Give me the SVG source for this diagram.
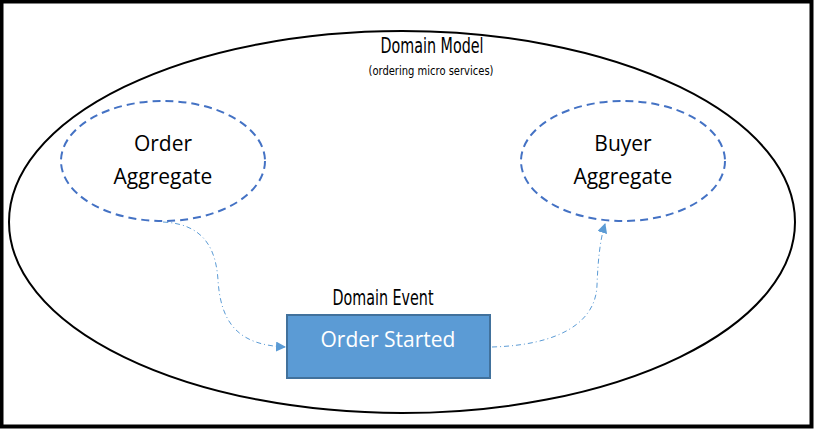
<svg xmlns="http://www.w3.org/2000/svg" width="814" height="429" viewBox="0 0 814 429">
<defs>
<style>
.agg{fill:none;stroke:#4472C4;stroke-width:2;stroke-dasharray:8 5}
.conn{fill:none;stroke:#5B9BD5;stroke-width:1;stroke-dasharray:5 3 1 3}
.cal{font-family:"Open Sans","Liberation Sans",sans-serif;font-size:21px;text-anchor:middle}
.agency{font-family:"DejaVu Sans Condensed","DejaVu Sans","Liberation Sans",sans-serif;font-stretch:condensed;text-anchor:middle}
</style>
<marker id="arr" viewBox="0 0 10 10" refX="9" refY="5" markerWidth="10" markerHeight="10" markerUnits="userSpaceOnUse" orient="auto">
<path d="M0,0 L10,5 L0,10 Z" fill="#5B9BD5"/>
</marker>
</defs>
<rect x="0" y="0" width="814" height="429" fill="#fff"/>
<rect x="1.5" y="1.5" width="810" height="425" fill="none" stroke="#000" stroke-width="4"/>
<g id="domain-model">
<ellipse cx="402" cy="222" rx="393" ry="191" fill="none" stroke="#000" stroke-width="2"/>
<text class="agency" x="432" y="53" font-size="22" textLength="103" lengthAdjust="spacingAndGlyphs">Domain Model</text>
<text class="agency" x="431" y="75" font-size="12" textLength="125" lengthAdjust="spacingAndGlyphs">(ordering micro services)</text>
</g>
<g id="order-aggregate">
<ellipse class="agg" cx="163" cy="161" rx="102" ry="60"/>
<text class="cal" x="163" y="151">Order</text>
<text class="cal" x="163" y="184">Aggregate</text>
</g>
<g id="buyer-aggregate">
<ellipse class="agg" cx="623" cy="161" rx="102" ry="60"/>
<text class="cal" x="623" y="151">Buyer</text>
<text class="cal" x="623" y="184">Aggregate</text>
</g>
<g id="order-started">
<text class="agency" x="383" y="305" font-size="22" textLength="101" lengthAdjust="spacingAndGlyphs">Domain Event</text>
<rect x="287" y="315" width="203" height="63" fill="#5B9BD5" stroke="#41719C" stroke-width="2"/>
<text class="cal" x="388" y="347" fill="#fff">Order Started</text>
</g>
<g id="connectors">
<path class="conn" d="M163,222 C205,224 216,250 218,280 C221,330 245,345 285,347" marker-end="url(#arr)"/>
<path class="conn" d="M492,347 C560,345 596,322 597,285 C598,260 600,240 605,224" marker-end="url(#arr)"/>
</g>
</svg>
